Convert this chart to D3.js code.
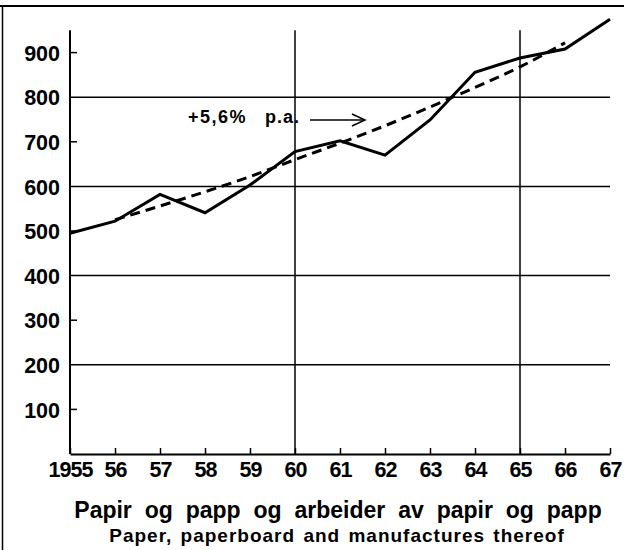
<!DOCTYPE html>
<html>
<head>
<meta charset="utf-8">
<script src="https://cdn.jsdelivr.net/npm/d3@7"></script>
<style>
  html, body { margin: 0; padding: 0; background: #fff; }
  svg { display: block; font-family: "Liberation Sans", Arial, sans-serif; }
</style>
</head>
<body>
<div id="chart"></div>
<script>
// Data
const years = [1955, 1956, 1957, 1958, 1959, 1960, 1961, 1962, 1963, 1964, 1965, 1966, 1967];
const actual = [495, 522, 582, 541, 603, 678, 702, 670, 749, 856, 888, 908, 975];
const trendYears = [1956, 1957, 1958, 1959, 1960, 1961, 1962, 1963, 1964, 1965, 1966];
const trend = [525, 556, 588, 622, 660, 697, 736, 778, 822, 868, 922];
const yLabels = [100, 200, 300, 400, 500, 600, 700, 800, 900];
const gridValues = [200, 400, 600, 800];
const yTicks = [100, 300, 500, 700, 900];
const vLines = [1960, 1965];
const rateLabel = "+5,6%";
const rateUnit = "p.a.";
const title = "Papir og papp og arbeider av papir og papp";
const subtitle = "Paper, paperboard and manufactures thereof";

const W = 624, H = 550;
const svg = d3.select('#chart').append('svg')
    .attr('width', W).attr('height', H);

const x = d3.scaleLinear().domain([1955, 1967]).range([70, 610]);
const y = d3.scaleLinear().domain([0, 1000]).range([454, 8]);

// Frame (top and left edges)
svg.append('line').attr('x1', 0).attr('x2', W).attr('y1', 6).attr('y2', 6)
    .attr('stroke', '#000').attr('stroke-width', 2);
svg.append('line').attr('x1', 2.5).attr('x2', 2.5).attr('y1', 6).attr('y2', H)
    .attr('stroke', '#000').attr('stroke-width', 1.5);

// Horizontal grid lines
svg.append('g').selectAll('line').data(gridValues).enter().append('line')
    .attr('x1', x(1955)).attr('x2', x(1967))
    .attr('y1', d => y(d)).attr('y2', d => y(d))
    .attr('stroke', '#000').attr('stroke-width', 1.5);

// Vertical lines at 60 and 65
svg.append('g').selectAll('line').data(vLines).enter().append('line')
    .attr('x1', d => x(d)).attr('x2', d => x(d))
    .attr('y1', y(0)).attr('y2', y(950))
    .attr('stroke', '#000').attr('stroke-width', 1.5);

// Y axis
const yAxis = svg.append('g')
    .attr('transform', `translate(${x(1955)},0)`)
    .call(d3.axisLeft(y).tickValues(yLabels).tickSize(0).tickPadding(10));
yAxis.select('.domain').remove();
yAxis.selectAll('text')
    .style('font-size', '21.5px').style('font-weight', 'bold')
    .style('font-family', '"Liberation Sans", Arial, sans-serif')
    .attr('fill', '#000').attr('dy', '0.36em');

svg.append('g').selectAll('line').data(yTicks).enter().append('line')
    .attr('x1', x(1955)).attr('x2', x(1955) + 7)
    .attr('y1', d => y(d)).attr('y2', d => y(d))
    .attr('stroke', '#000').attr('stroke-width', 1.5);

svg.append('line')
    .attr('x1', x(1955)).attr('x2', x(1955))
    .attr('y1', y(0)).attr('y2', y(950))
    .attr('stroke', '#000').attr('stroke-width', 2);

// X axis
const xAxis = svg.append('g')
    .attr('transform', `translate(0,${y(0)})`)
    .call(d3.axisBottom(x).tickValues(years).tickSize(-6).tickSizeOuter(0).tickPadding(8)
        .tickFormat(d => d === 1955 ? '1955' : String(d).slice(2)));
xAxis.select('.domain').attr('stroke-width', 2);
xAxis.selectAll('.tick line').attr('stroke-width', 1.5);
xAxis.selectAll('text')
    .style('font-size', '21.5px').style('font-weight', 'bold')
    .style('font-family', '"Liberation Sans", Arial, sans-serif')
    .style('letter-spacing', '-1px')
    .attr('fill', '#000');

// Actual series
const line = d3.line().x(d => x(d[0])).y(d => y(d[1]));
svg.append('path')
    .datum(years.map((yr, i) => [yr, actual[i]]))
    .attr('d', line)
    .attr('fill', 'none').attr('stroke', '#000').attr('stroke-width', 3)
    .attr('stroke-linejoin', 'miter');

// Trend line (dashed)
svg.append('path')
    .datum(trendYears.map((yr, i) => [yr, trend[i]]))
    .attr('d', d3.line().curve(d3.curveMonotoneX).x(d => x(d[0])).y(d => y(d[1])))
    .attr('fill', 'none').attr('stroke', '#000').attr('stroke-width', 3)
    .attr('stroke-dasharray', '10,6');

// Annotation with arrow
svg.append('text')
    .attr('x', 188).attr('y', 123)
    .style('font-size', '18px').style('font-weight', 'bold')
    .style('letter-spacing', '1.5px')
    .attr('fill', '#000')
    .text(rateLabel);
svg.append('text')
    .attr('x', 265).attr('y', 123)
    .style('font-size', '18px').style('font-weight', 'bold')
    .style('letter-spacing', '1px')
    .attr('fill', '#000')
    .text(rateUnit);

svg.append('line')
    .attr('x1', 310).attr('x2', 365).attr('y1', 120).attr('y2', 120)
    .attr('stroke', '#000').attr('stroke-width', 1.5);
svg.append('path')
    .attr('d', 'M352,114 L365,120 L352,126')
    .attr('fill', 'none').attr('stroke', '#000').attr('stroke-width', 1.5);

// Titles
svg.append('text')
    .attr('x', 338).attr('y', 518)
    .attr('text-anchor', 'middle')
    .style('font-size', '23px').style('font-weight', 'bold')
    .style('word-spacing', '6.5px')
    .attr('fill', '#000')
    .text(title);

svg.append('text')
    .attr('x', 337).attr('y', 542)
    .attr('text-anchor', 'middle')
    .style('font-size', '19px').style('font-weight', 'bold')
    .style('letter-spacing', '1px')
    .style('word-spacing', '2px')
    .attr('fill', '#000')
    .text(subtitle);
</script>
</body>
</html>
